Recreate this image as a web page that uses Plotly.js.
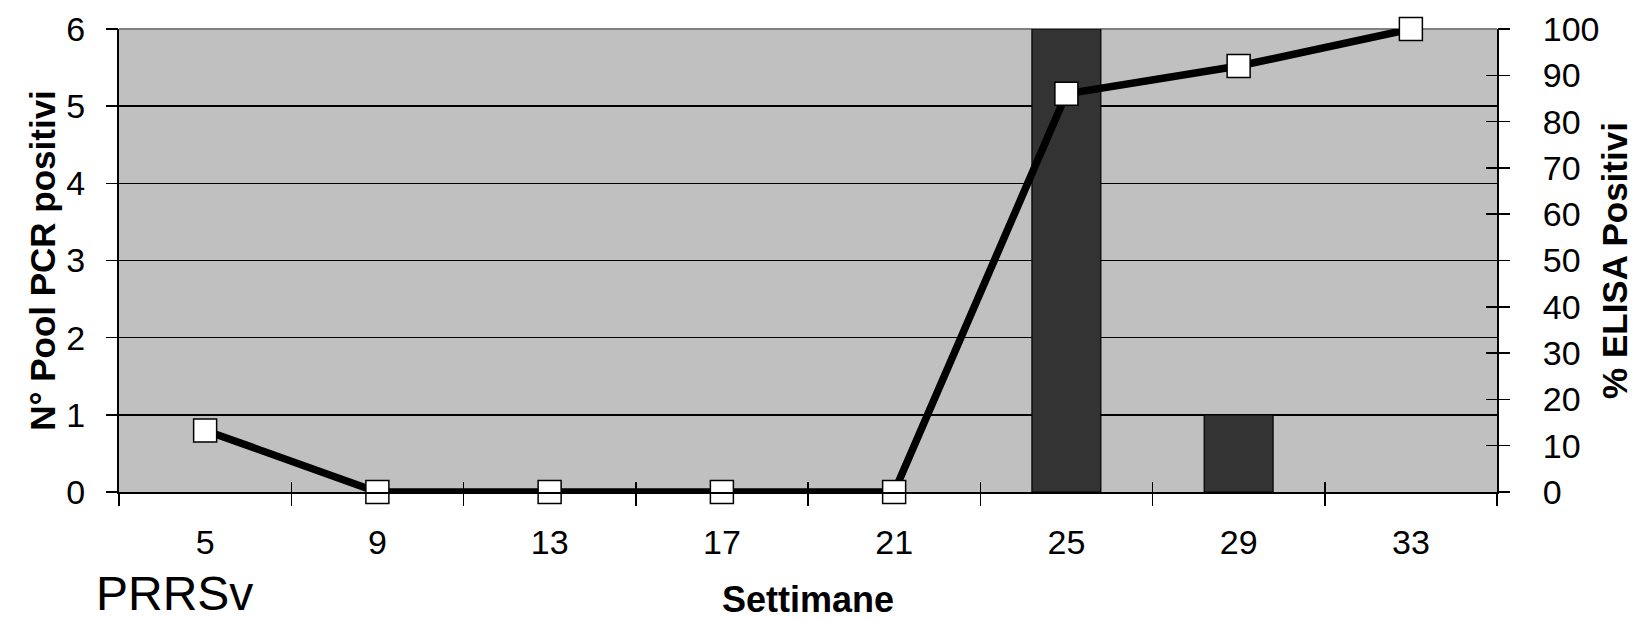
<!DOCTYPE html>
<html>
<head>
<meta charset="utf-8">
<script src="https://cdn.plot.ly/plotly-3.0.1.min.js"></script>
<style>
html,body{margin:0;padding:0;background:#fff;}
#chart{width:1641px;height:620px;}
</style>
</head>
<body>
<div id="chart"></div>
<script>
// ---- data ----
var weeks = ["5", "9", "13", "17", "21", "25", "29", "33"];
var pcrPositivePools = [0, 0, 0, 0, 0, 6, 1, 0];
var elisaPositivePct = [13.3, 0, 0, 0, 0, 86, 92, 100];
var leftTicks = [0, 1, 2, 3, 4, 5, 6];
var rightTicks = [0, 10, 20, 30, 40, 50, 60, 70, 80, 90, 100];

var FONT = "Liberation Sans, Arial, sans-serif";
var tickFont = {family: FONT, size: 34, color: "#000"};
var titleFont = {family: FONT, size: 35, color: "#000", weight: "bold"};
var CLEAR = "rgba(0,0,0,0)";

// no outline drawn for empty (zero) bars
var barOutline = pcrPositivePools.map(function (v) { return v > 0 ? 1.2 : 0; });

function helper(xa, ya, yvals) {
  return {type: "scatter", mode: "markers", x: weeks, y: yvals, xaxis: xa, yaxis: ya,
          marker: {opacity: 0}, hoverinfo: "skip", showlegend: false};
}

var traces = [
  {
    type: "bar", x: weeks, y: pcrPositivePools, xaxis: "x", yaxis: "y",
    marker: {color: "#333333", line: {color: "#000", width: barOutline}},
    hoverinfo: "skip", showlegend: false
  },
  {
    type: "scatter", mode: "lines+markers", x: weeks, y: elisaPositivePct,
    xaxis: "x", yaxis: "y2", cliponaxis: false,
    line: {color: "#000", width: 7.5},
    marker: {symbol: "square", size: 23, color: "#fff", line: {color: "#000", width: 1.5}},
    hoverinfo: "skip", showlegend: false
  },
  // invisible helper traces so that the overlaid tick-only axes are drawn
  helper("x2", "y3", pcrPositivePools),
  helper("x2", "y4", elisaPositivePct),
  helper("x2", "y5", pcrPositivePools),
  helper("x2", "y6", elisaPositivePct)
];

function tickOnlyY(range, vals, side, dir, len) {
  return {range: range, tickvals: vals, overlaying: "y", anchor: "x", side: side,
          ticks: dir, ticklen: len, tickwidth: 1.5, tickcolor: "#000",
          showticklabels: false, showline: false, showgrid: false, zeroline: false};
}

var layout = {
  width: 1641, height: 620,
  margin: {l: 119, r: 144, t: 29, b: 128, pad: 0},
  paper_bgcolor: "#fff",
  plot_bgcolor: "#c0c0c0",
  bargap: 0.6,
  showlegend: false,
  font: {family: FONT, color: "#000"},
  xaxis: {
    type: "category", categoryorder: "array", categoryarray: weeks,
    range: [-0.5, 7.5], anchor: "y",
    tickson: "boundaries", ticks: "outside", ticklen: 12, tickwidth: 1.5, tickcolor: "#000",
    tickfont: tickFont, ticklabelstandoff: 19,
    showline: true, linecolor: "#000", linewidth: 2,
    showgrid: false, zeroline: false,
    title: {text: "Settimane", font: {family: FONT, size: 36, color: "#000", weight: "bold"}, standoff: 28}
  },
  xaxis2: {
    type: "category", categoryorder: "array", categoryarray: weeks,
    range: [-0.5, 7.5], overlaying: "x", anchor: "y", side: "bottom",
    tickson: "boundaries", ticks: "inside", ticklen: 10, tickwidth: 1.5, tickcolor: "#000",
    showticklabels: false, showline: false, showgrid: false, zeroline: false
  },
  // left axis: labels placed by a transparent long tick
  yaxis: {
    range: [0, 6], tickvals: leftTicks, anchor: "x", side: "left",
    ticks: "outside", ticklen: 25, tickwidth: 1, tickcolor: CLEAR,
    tickfont: tickFont,
    showline: true, linecolor: "#000", linewidth: 2,
    showgrid: true, gridcolor: "#000", gridwidth: 1.5, zeroline: false,
    title: {text: "N° Pool PCR positivi", font: titleFont, standoff: 0}
  },
  yaxis3: tickOnlyY([0, 6], leftTicks, "left", "inside", 12),
  yaxis5: tickOnlyY([0, 6], leftTicks, "left", "outside", 12),
  // right axis
  yaxis2: {
    range: [0, 100], tickvals: rightTicks, overlaying: "y", anchor: "x", side: "right",
    ticks: "outside", ticklen: 37, tickwidth: 1, tickcolor: CLEAR,
    tickfont: tickFont,
    showline: true, linecolor: "#000", linewidth: 2,
    showgrid: false, zeroline: false,
    title: {text: "% ELISA Positivi", font: titleFont, standoff: 4}
  },
  yaxis4: tickOnlyY([0, 100], rightTicks, "right", "inside", 11),
  yaxis6: tickOnlyY([0, 100], rightTicks, "right", "outside", 12),
  shapes: [
    {type: "line", xref: "paper", yref: "paper", x0: 0, x1: 1, y0: 1, y1: 1,
     line: {color: "#808080", width: 2}, layer: "between"}
  ],
  annotations: [
    {text: "PRRSv", xref: "paper", yref: "paper", x: -0.0185, y: -0.219,
     xanchor: "left", yanchor: "middle", showarrow: false,
     font: {family: FONT, size: 48, color: "#000"}}
  ]
};

Plotly.newPlot("chart", traces, layout, {displayModeBar: false, staticPlot: true});
</script>
</body>
</html>
